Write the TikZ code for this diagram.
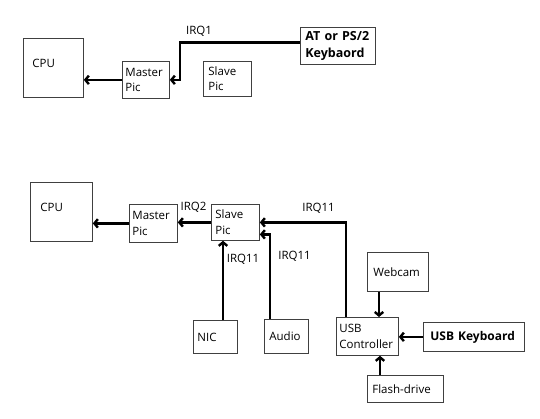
\documentclass[tikz,border=0pt]{standalone}
\usepackage{fontspec}
\setmainfont{Open Sans}
\usetikzlibrary{arrows.meta,positioning,calc}

\tikzset{
  box/.style={draw=black!75, line width=0.8pt, rectangle, inner xsep=0pt, inner ysep=2pt,
    align=left, anchor=north west, font=\fontsize{11.5}{15.5}\selectfont},
  wire/.style={line width=2.4pt, -{Straight Barb[length=3.5pt,width=8.5pt]}},
  irq/.style={font=\fontsize{11.5}{14}\selectfont},
}

\begin{document}
\begin{tikzpicture}[x=1pt, y=-1pt]
  \useasboundingbox (0,0) rectangle (540,419);

  % Upper diagram: AT or PS/2 keyboard
  \node[box, minimum width=60pt, minimum height=59pt, text width=42pt, text depth=10pt] (cpuA) at (23,38) {CPU};
  \node[box, minimum width=47pt, minimum height=37pt, text width=41pt] (mpA) at (122,61) {Master\\Pic};
  \node[box, minimum width=48pt, minimum height=35pt, text width=38pt] (spA) at (203,61) {Slave\\Pic};
  \node[box, minimum width=75pt, minimum height=37pt, text width=65pt, font=\fontsize{12.5}{16.5}\selectfont\bfseries] (kbd) at (300,27) {AT or PS/2\\Keybaord};

  \draw[wire] ([yshift=3.5pt]kbd.west) -| ([xshift=10pt]mpA.east) -- (mpA.east);
  \draw[wire] (mpA.west) -- (mpA.west -| cpuA.east);
  \node[irq] (irq1) at (199,31) {IRQ1};

  % Lower diagram: USB devices
  \node[box, minimum width=62pt, minimum height=59pt, text width=42pt, text depth=10pt] (cpuB) at (30,182) {CPU};
  \node[box, minimum width=48pt, minimum height=38pt, text width=42pt] (mpB) at (129,204) {Master\\Pic};
  \node[box, minimum width=48pt, minimum height=36pt, text width=40pt] (sp) at (211,204) {Slave\\Pic};
  \node[box, minimum width=44pt, minimum height=33pt, text width=36pt] (nic) at (193,320) {NIC};
  \node[box, minimum width=44pt, minimum height=34pt, text width=34pt] (audio) at (264,319) {Audio};
  \node[box, minimum width=62pt, minimum height=38pt, text width=56pt] (usb) at (336,317) {USB\\Controller};
  \node[box, minimum width=61pt, minimum height=39pt, text width=49pt] (webcam) at (367,252) {Webcam};
  \node[box, minimum width=101pt, minimum height=29pt, text width=87pt, font=\fontsize{12}{15}\selectfont\bfseries] (ukb) at (423,322) {USB Keyboard};
  \node[box, minimum width=76pt, minimum height=27pt, text width=66pt] (flash) at (367,375) {Flash-drive};

  \draw[wire] (mpB.west) -- (mpB.west -| cpuB.east);
  \draw[wire] (sp.west) -- (sp.west -| mpB.east);
  \draw[wire] ([xshift=10pt]usb.north west) |- (sp.east);
  \draw[wire] ([xshift=6pt]audio.north west) |- ([yshift=-12pt]sp.east);
  \draw[wire] ([xshift=12pt]sp.south west |- nic.north) -- ([xshift=12pt]sp.south west);
  \draw[wire] ([xshift=12pt]webcam.south west) -- ([xshift=12pt]webcam.south west |- usb.north);
  \draw[wire] (ukb.west) -- (ukb.west -| usb.east);
  \draw[wire] ([xshift=13pt]flash.north west) -- ([xshift=13pt]flash.north west |- usb.south);

  \node[irq] (irq2) at (193.5,207) {IRQ2};
  \node[irq] (irqusb) at (318.5,208) {IRQ11};
  \node[irq] (irqnic) at (243,259) {IRQ11};
  \node[irq] (irqaudio) at (294.5,256) {IRQ11};
\end{tikzpicture}
\end{document}
